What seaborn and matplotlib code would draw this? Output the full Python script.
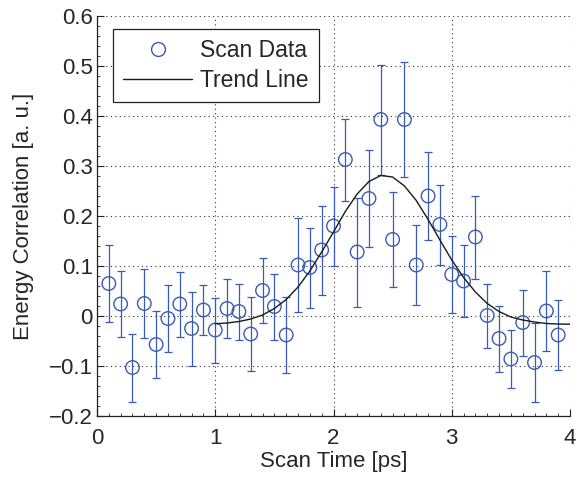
import numpy as np
import pandas as pd
import matplotlib
matplotlib.use("Agg")
import matplotlib.pyplot as plt
from matplotlib.lines import Line2D
from matplotlib.ticker import MultipleLocator
import seaborn as sns

# ---- data ----
scan_time = [0.1, 0.2, 0.3, 0.4, 0.5, 0.6, 0.7, 0.8, 0.9, 1.0,
             1.1, 1.2, 1.3, 1.4, 1.5, 1.6, 1.7, 1.8, 1.9, 2.0,
             2.1, 2.2, 2.3, 2.4, 2.5, 2.6, 2.7, 2.8, 2.9, 3.0,
             3.1, 3.2, 3.3, 3.4, 3.5, 3.6, 3.7, 3.8, 3.9]
energy_corr = [0.065, 0.024, -0.103, 0.025, -0.057, -0.005, 0.024, -0.025, 0.012, -0.028,
               0.015, 0.009, -0.036, 0.051, 0.019, -0.038, 0.102, 0.097, 0.132, 0.180,
               0.313, 0.128, 0.235, 0.393, 0.153, 0.393, 0.102, 0.240, 0.183, 0.083,
               0.070, 0.158, 0.001, -0.045, -0.086, -0.013, -0.093, 0.010, -0.038]
energy_err = [0.077, 0.066, 0.068, 0.069, 0.067, 0.067, 0.065, 0.074, 0.050, 0.065,
              0.059, 0.056, 0.074, 0.065, 0.066, 0.076, 0.094, 0.080, 0.089, 0.079,
              0.082, 0.109, 0.097, 0.110, 0.095, 0.115, 0.080, 0.088, 0.080, 0.077,
              0.072, 0.083, 0.064, 0.066, 0.058, 0.066, 0.079, 0.080, 0.070]

trend_time = [1.0, 1.1, 1.2, 1.3, 1.4, 1.5, 1.6, 1.7, 1.8, 1.9, 2.0,
              2.1, 2.2, 2.3, 2.4, 2.5, 2.6, 2.7, 2.8, 2.9, 3.0,
              3.1, 3.2, 3.3, 3.4, 3.5, 3.6, 3.7, 3.8, 3.9, 4.0]
trend_value = [-0.0155, -0.014, -0.011, -0.006, 0.002, 0.015, 0.033, 0.058, 0.090, 0.128, 0.168,
               0.209, 0.244, 0.269, 0.281, 0.278, 0.260, 0.231, 0.193, 0.152, 0.112,
               0.077, 0.048, 0.025, 0.009, -0.002, -0.008, -0.012, -0.015, -0.016, -0.0165]

x_ticks = [0, 1, 2, 3, 4]
y_ticks = [-0.2, -0.1, 0, 0.1, 0.2, 0.3, 0.4, 0.5, 0.6]
y_tick_labels = ["\u22120.2", "\u22120.1", "0", "0.1", "0.2", "0.3", "0.4", "0.5", "0.6"]

# ---- styling ----
sns.set_theme(style="ticks")
plt.rcParams["font.family"] = ["Liberation Sans", "DejaVu Sans"]
plt.rcParams["xtick.direction"] = "in"
plt.rcParams["ytick.direction"] = "in"

blue = "#3a5bb5"
fs = 16

df = pd.DataFrame({"t": scan_time, "e": energy_corr, "err": energy_err})
trend = pd.DataFrame({"t": trend_time, "v": trend_value})

fig = plt.figure(figsize=(5.78, 4.78), dpi=100)
ax = fig.add_axes([97 / 578, (478 - 416) / 478, (570 - 97) / 578, (416 - 16) / 478])

ax.errorbar(df["t"], df["e"], yerr=df["err"], fmt="none", ecolor=blue,
            elinewidth=0.9, capsize=3.0, capthick=0.9, zorder=2)
sns.scatterplot(data=df, x="t", y="e", ax=ax, marker="o", s=95,
                facecolor="none", edgecolor=blue, linewidth=1.0, zorder=3, legend=False)
sns.lineplot(data=trend, x="t", y="v", ax=ax, color="#1a1a1a", linewidth=1.0,
             zorder=4, legend=False)

ax.set_xlim(0, 4)
ax.set_ylim(-0.2, 0.6)
ax.set_xticks(x_ticks)
ax.set_xticklabels([str(v) for v in x_ticks], fontsize=fs)
ax.set_yticks(y_ticks)
ax.set_yticklabels(y_tick_labels, fontsize=fs)
ax.xaxis.set_minor_locator(MultipleLocator(0.1))
ax.yaxis.set_minor_locator(MultipleLocator(0.02))
ax.tick_params(which="major", length=5, width=0.8, color="#222222")
ax.tick_params(axis="x", which="major", pad=9)
ax.tick_params(axis="y", which="major", pad=3)
ax.tick_params(which="minor", length=2.5, width=0.6, color="#222222")

ax.set_xlabel("Scan Time [ps]", fontsize=fs, labelpad=1)
ax.set_ylabel("Energy Correlation [a. u.]", fontsize=fs, labelpad=11)

ax.grid(True, which="major", linestyle=(0, (1, 3)), color="#333333", linewidth=0.8)
for s in ["top", "right"]:
    ax.spines[s].set_visible(False)
for s in ["left", "bottom"]:
    ax.spines[s].set_color("#222222")
    ax.spines[s].set_linewidth(0.9)

handles = [
    Line2D([], [], marker="o", linestyle="none", markerfacecolor="none",
           markeredgecolor=blue, markersize=10, markeredgewidth=1.0),
    Line2D([], [], color="#1a1a1a", linewidth=1.0),
]
leg = ax.legend(handles, ["Scan Data", "Trend Line"], loc="upper left",
                bbox_to_anchor=(0.034, 0.968), fontsize=16.5, frameon=True,
                fancybox=False, framealpha=1, edgecolor="#222222",
                handlelength=3.0, handletextpad=0.35, borderpad=0.45,
                labelspacing=0.3, borderaxespad=0)
leg.get_frame().set_linewidth(0.9)

fig.savefig("out.png", dpi=100)
